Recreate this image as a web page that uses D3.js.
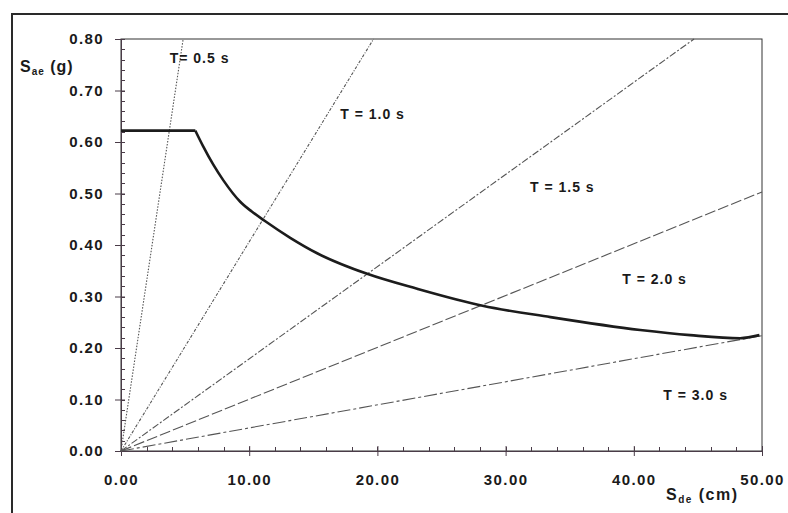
<!DOCTYPE html>
<html>
<head>
<meta charset="utf-8">
<script src="https://cdn.jsdelivr.net/npm/d3@7"></script>
<style>
  body { margin: 0; background: #fff; }
  svg text { font-family: "Liberation Sans", Arial, sans-serif; fill: #1a1a1a; }
</style>
</head>
<body>
<div id="chart"></div>
<script>
// capacity spectrum (ADRS) with constant-period lines

// capacity curve: Sd (cm), Sa (g)
const capSd = [0, 5.8, 6.4, 7.2, 8.0, 9.3, 10.2, 11.2, 13.2, 15.3, 19.2, 23.1, 28.2, 33.5, 40.5, 44.4, 48.3, 49.8];
const capSa = [0.622, 0.622, 0.592, 0.556, 0.525, 0.484, 0.465, 0.447, 0.414, 0.384, 0.344, 0.315, 0.282, 0.260, 0.235, 0.225, 0.219, 0.225];

// period lines: label, end point (they all start at the origin)
const periods = ["T= 0.5 s", "T = 1.0 s", "T = 1.5 s", "T = 2.0 s", "T = 3.0 s"];
const periodEndSd = [4.85, 19.7, 44.7, 50, 50];
const periodEndSa = [0.80, 0.80, 0.80, 0.503, 0.224];
const periodDash = ["1.5,1.5", "3,1.5,1,1.5", "7,2,2,2", "11,3", "13,3,3,3"];
// where the labels sit, in data units (left edge, middle)
const labelSd = [3.8, 17.1, 31.9, 39.1, 42.3];
const labelSa = [0.762, 0.655, 0.513, 0.334, 0.108];

const xTicks = [0, 10, 20, 30, 40, 50];
const yTicks = [0, 0.1, 0.2, 0.3, 0.4, 0.5, 0.6, 0.7, 0.8];

const width = 788, height = 513;
const plot = { left: 121, right: 762, top: 39, bottom: 451 };

const x = d3.scaleLinear().domain([0, 50]).range([plot.left, plot.right]);
const y = d3.scaleLinear().domain([0, 0.8]).range([plot.bottom, plot.top]);

const svg = d3.select("#chart").append("svg")
    .attr("width", width)
    .attr("height", height);

// outer frame (top and left only, the rest is cut off)
svg.append("path")
    .attr("d", `M12,${height} L12,14 L${width},14`)
    .attr("fill", "none")
    .attr("stroke", "#2a2a2a")
    .attr("stroke-width", 2);

// plot box
svg.append("rect")
    .attr("x", plot.left)
    .attr("y", plot.top)
    .attr("width", plot.right - plot.left)
    .attr("height", plot.bottom - plot.top)
    .attr("fill", "none")
    .attr("stroke", "#333")
    .attr("stroke-width", 1);

// minor ticks
const axisCol = "#4a3c48";
const ticks = svg.append("g").attr("stroke", axisCol).attr("stroke-width", 1);
d3.range(0, 0.8001, 0.02).forEach(v => {
    ticks.append("line")
        .attr("x1", plot.left).attr("x2", plot.left + 4)
        .attr("y1", Math.round(y(v)) + 0.5).attr("y2", Math.round(y(v)) + 0.5);
});
d3.range(0, 50.001, 2).forEach(v => {
    ticks.append("line")
        .attr("x1", Math.round(x(v)) + 0.5).attr("x2", Math.round(x(v)) + 0.5)
        .attr("y1", plot.bottom).attr("y2", plot.bottom - 4);
});

// axes with major ticks crossing
const yAxis = svg.append("g")
    .attr("transform", `translate(${plot.left},0)`)
    .call(d3.axisLeft(y).tickValues(yTicks).tickFormat(d3.format(".2f")).tickSizeInner(6).tickSizeOuter(0).tickPadding(9));
yAxis.selectAll(".tick line").attr("x2", -6).attr("x1", 4);

const xAxis = svg.append("g")
    .attr("transform", `translate(0,${plot.bottom})`)
    .call(d3.axisBottom(x).tickValues(xTicks).tickFormat(d3.format(".2f")).tickSizeInner(5).tickSizeOuter(0).tickPadding(18));
xAxis.selectAll(".tick line").attr("y1", -5).attr("y2", 5);

[xAxis, yAxis].forEach(a => {
    a.select(".domain").attr("stroke", axisCol);
    a.selectAll(".tick line").attr("stroke", axisCol);
    a.selectAll(".tick text")
        .attr("font-size", 15)
        .attr("font-weight", "bold")
        .attr("letter-spacing", 1.4)
        .style("font-family", "'Liberation Sans', Arial, sans-serif")
        .attr("fill", "#1a1a1a");
});
yAxis.selectAll(".tick text").attr("dx", -2);

// period lines
const line = d3.line().x(d => x(d[0])).y(d => y(d[1]));
const periodG = svg.append("g");
periods.forEach((p, i) => {
    periodG.append("path")
        .datum([[0, 0], [periodEndSd[i], periodEndSa[i]]])
        .attr("d", line)
        .attr("fill", "none")
        .attr("stroke", "#555")
        .attr("stroke-width", 1.1)
        .attr("stroke-dasharray", periodDash[i]);
    periodG.append("text")
        .attr("x", x(labelSd[i]))
        .attr("y", y(labelSa[i]))
        .attr("dy", "0.35em")
        .attr("font-size", 14)
        .attr("font-weight", "bold")
        .attr("letter-spacing", 1)
        .text(p);
});

// capacity curve: straight plateau, then smooth decay
const capPts = capSd.map((d, i) => [d, capSa[i]]);
const capG = svg.append("g")
    .attr("fill", "none")
    .attr("stroke", "#1c1c1c")
    .attr("stroke-width", 2.6)
    .attr("stroke-linejoin", "round");
capG.append("path")
    .datum(capPts.slice(0, 2))
    .attr("d", line);
capG.append("path")
    .datum(capPts.slice(1))
    .attr("d", d3.line().x(d => x(d[0])).y(d => y(d[1])).curve(d3.curveMonotoneX));

// axis titles with subscripts
const yTitle = svg.append("text")
    .attr("x", 20).attr("y", 72)
    .attr("font-size", 16).attr("font-weight", "bold").attr("letter-spacing", 1);
yTitle.append("tspan").text("S");
yTitle.append("tspan").attr("font-size", 10).attr("dy", 3).text("ae");
yTitle.append("tspan").attr("dy", -3).text(" (g)");

const xTitle = svg.append("text")
    .attr("x", 666).attr("y", 500)
    .attr("font-size", 16).attr("font-weight", "bold").attr("letter-spacing", 1.5);
xTitle.append("tspan").text("S");
xTitle.append("tspan").attr("font-size", 10).attr("dy", 3).text("de");
xTitle.append("tspan").attr("dy", -3).text(" (cm)");
</script>
</body>
</html>
